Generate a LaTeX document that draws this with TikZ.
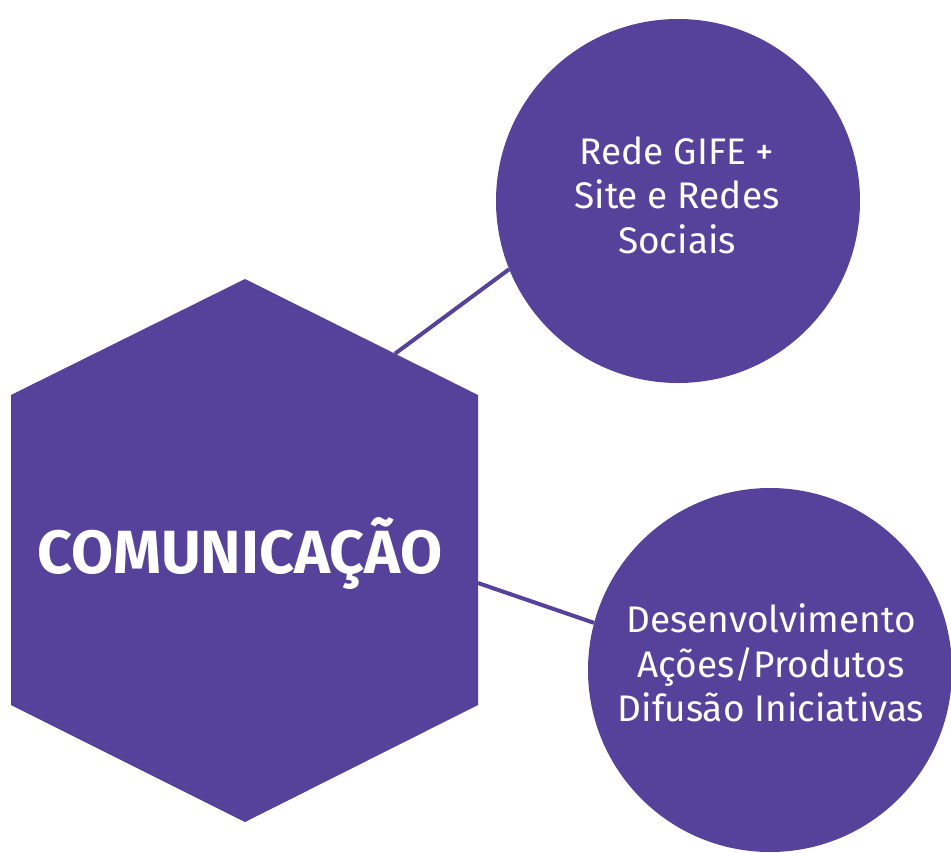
\documentclass[tikz,border=0pt]{standalone}
\usepackage{fontspec}
\setmainfont{Fira Sans}
\usetikzlibrary{calc}
\definecolor{gifepurple}{RGB}{86,66,155}
\tikzset{
  bubble/.style={circle, fill=gifepurple, minimum size=364pt, inner sep=0pt},
  bubbletext/.style={text=white, align=center, inner sep=0pt,
     font=\fontsize{37}{44.5}\selectfont},
  link/.style={draw=gifepurple, line width=4pt},
  hexlabel/.style={text=white, font=\fontsize{61}{70}\selectfont\bfseries, inner sep=0pt}
}
\begin{document}
\begin{tikzpicture}[x=1pt,y=-1pt]
  \useasboundingbox (0,0) rectangle (951,852);
  \clip (0,0) rectangle (951,852);
  \fill[white] (0,0) rectangle (951,852);
  % circles
  \node[bubble] (c1) at (678,201) {};
  \node[bubble] (c2) at (770,670) {};
  \node[bubbletext] (t1) at (677,195) {Rede GIFE +\\Site e Redes\\Sociais};
  \node[bubbletext] (t2) at (771,663) {Desenvolvimento\\Ações/Produtos\\Difusão Iniciativas};
  % connector endpoints on the hexagon
  \coordinate (h1) at (395,353.7);
  \coordinate (h2) at (478,583);
  \draw[link] (h1) -- (c1.202.9);
  \draw[link] (h2) -- (c2.165.1);
  % hexagon
  \fill[gifepurple] (245,279) -- (478,395) -- (478,705) -- (245,822) -- (11,705) -- (11,395) -- cycle;
  \node[hexlabel] (hex) at (240,553) {COMUNICAÇÃO};
\end{tikzpicture}
\end{document}
